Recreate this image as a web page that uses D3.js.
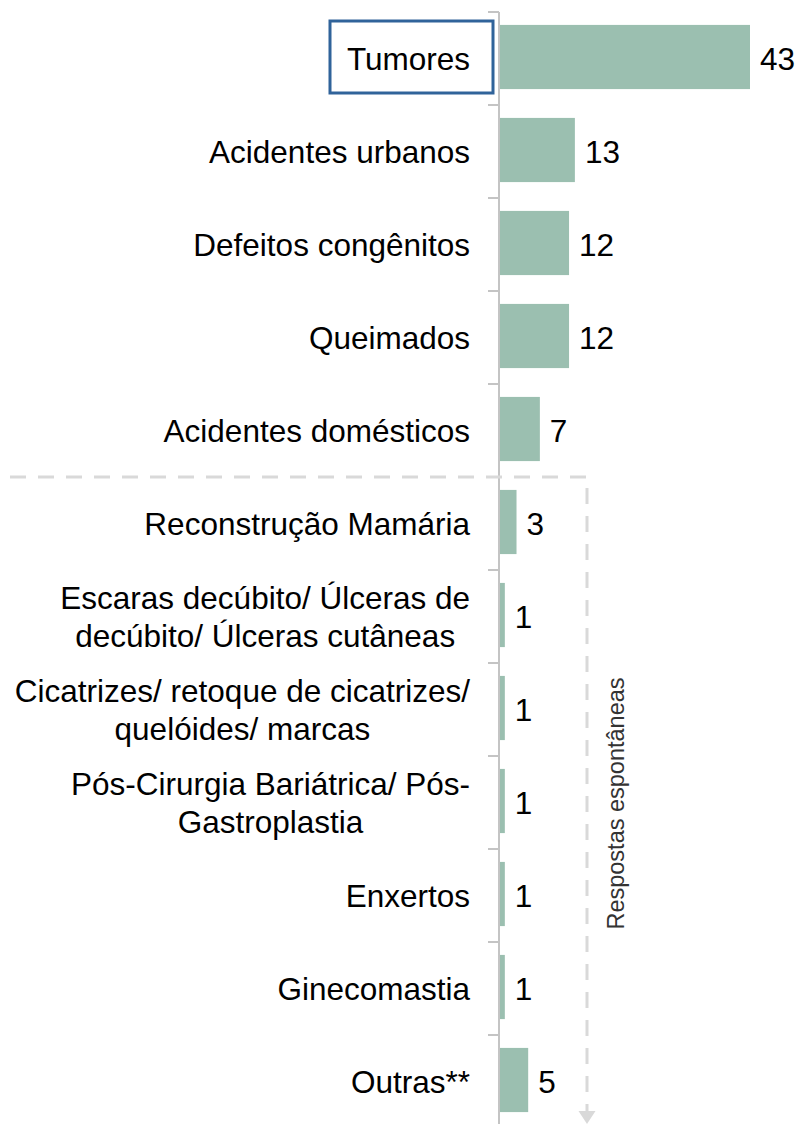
<!DOCTYPE html>
<html>
<head>
<meta charset="utf-8">
<script src="https://cdn.jsdelivr.net/npm/d3@7"></script>
<style>
  html, body { margin: 0; padding: 0; background: #ffffff; }
  svg { display: block; font-family: "Liberation Sans", Arial, sans-serif; }
</style>
</head>
<body>
<svg id="chart" width="799" height="1124"></svg>
<script>
// ---- data ----
const categories = [
  ["Tumores"],
  ["Acidentes urbanos"],
  ["Defeitos congênitos"],
  ["Queimados"],
  ["Acidentes domésticos"],
  ["Reconstrução Mamária"],
  ["Escaras decúbito/ Úlceras de", "decúbito/ Úlceras cutâneas"],
  ["Cicatrizes/ retoque de cicatrizes/", "quelóides/ marcas"],
  ["Pós-Cirurgia Bariátrica/ Pós-", "Gastroplastia"],
  ["Enxertos"],
  ["Ginecomastia"],
  ["Outras**"]
];
const values = [43, 13, 12, 12, 7, 3, 1, 1, 1, 1, 1, 5];
const highlighted = ["Tumores"];
const spontaneousStart = "Reconstrução Mamária";
const spontaneousLabel = "Respostas espontâneas";

// ---- layout ----
const W = 799, H = 1124;
const axisX = 499;
const labelRight = 470;
const fontSize = 31.5;
const barColor = "#9bbfb0";
const axisColor = "#c4c4c4";

const keys = categories.map(c => c.join(" "));
const data = keys.map((k, i) => ({ key: k, lines: categories[i], value: values[i] }));

const svg = d3.select("#chart");

const y = d3.scaleBand()
  .domain(keys)
  .range([12, 1128])
  .paddingInner(0.31)
  .paddingOuter(0.155);

const x = d3.scaleLinear()
  .domain([0, 43])
  .range([axisX, 750]);

const step = y.step();
const bandStart = k => y(k) - y.paddingOuter() * step; // boundary of category slot
const barShift = -1.5;

// bars
svg.append("g").selectAll("rect")
  .data(data)
  .join("rect")
  .attr("x", x(0))
  .attr("y", d => y(d.key) + barShift)
  .attr("width", d => x(d.value) - x(0))
  .attr("height", y.bandwidth())
  .attr("fill", barColor);

// axis line + ticks at slot boundaries
const boundaries = keys.map(k => bandStart(k));
svg.append("line")
  .attr("x1", axisX).attr("x2", axisX)
  .attr("y1", boundaries[0]).attr("y2", H)
  .attr("stroke", axisColor).attr("stroke-width", 2);
svg.append("g").selectAll("line")
  .data(boundaries)
  .join("line")
  .attr("x1", axisX - 11).attr("x2", axisX)
  .attr("y1", d => d).attr("y2", d => d)
  .attr("stroke", axisColor).attr("stroke-width", 2);

// value labels
svg.append("g").selectAll("text")
  .data(data)
  .join("text")
  .attr("x", d => x(d.value) + 10)
  .attr("y", d => y(d.key) + y.bandwidth() / 2)
  .attr("dy", "0.36em")
  .attr("font-size", fontSize)
  .attr("fill", "#000")
  .text(d => d.value);

// category labels
const lineH = 37.5;
const labelG = svg.append("g");
data.forEach(d => {
  const cy = y(d.key) + y.bandwidth() / 2;
  const n = d.lines.length;
  const g = labelG.append("g");
  const texts = d.lines.map((ln, i) =>
    g.append("text")
      .attr("y", cy + (i - (n - 1) / 2) * lineH)
      .attr("dy", "0.36em")
      .attr("font-size", fontSize)
      .attr("fill", "#000")
      .text(ln)
  );
  if (n === 1) {
    texts[0].attr("x", labelRight).attr("text-anchor", "end");
  } else {
    const maxW = d3.max(texts, t => t.node().getComputedTextLength());
    const cx = labelRight - maxW / 2;
    texts.forEach(t => t.attr("x", cx).attr("text-anchor", "middle"));
  }
});

// highlight box around "Tumores"
highlighted.forEach(k => {
  const top = bandStart(k);
  svg.append("rect")
    .attr("x", 330)
    .attr("y", top + 9)
    .attr("width", 163)
    .attr("height", step - 21)
    .attr("fill", "none")
    .attr("stroke", "#30639a")
    .attr("stroke-width", 3);
});

// dashed bracket for spontaneous answers
const bracketY = bandStart(spontaneousStart);
const bracketX = 587;
const arrowTip = H;
const arrowBase = H - 13;
svg.append("path")
  .attr("d", `M10,${bracketY}H${bracketX}V${arrowBase}`)
  .attr("fill", "none")
  .attr("stroke", "#d9d9d9")
  .attr("stroke-width", 3)
  .attr("stroke-dasharray", "16,12");
svg.append("path")
  .attr("d", `M${bracketX - 8.5},${arrowBase}L${bracketX + 8.5},${arrowBase}L${bracketX},${arrowTip}Z`)
  .attr("fill", "#d9d9d9");

svg.append("text")
  .attr("transform", `translate(624,${(bracketY + H) / 2 + 3}) rotate(-90)`)
  .attr("text-anchor", "middle")
  .attr("font-size", 23.5)
  .attr("fill", "#333333")
  .text(spontaneousLabel);
</script>
</body>
</html>
